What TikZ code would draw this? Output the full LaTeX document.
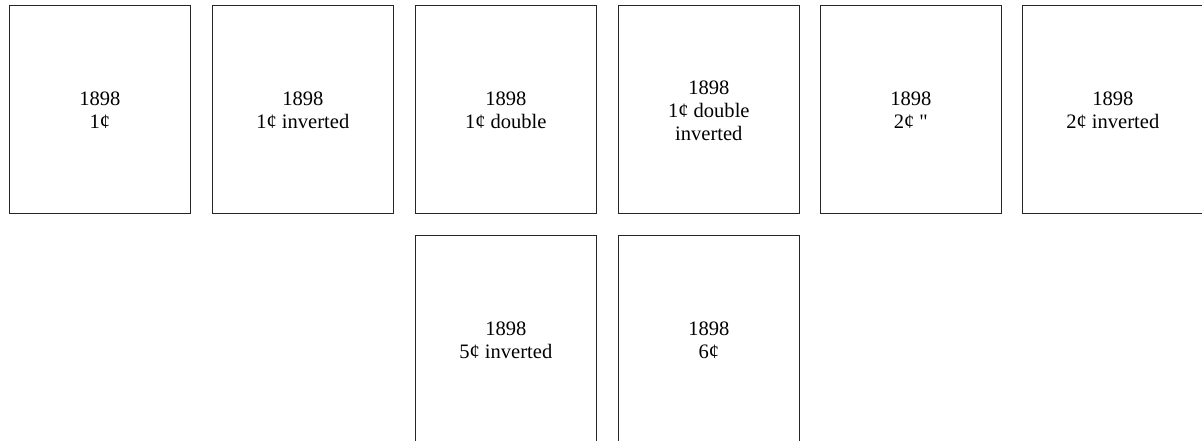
\documentclass[tikz,border=0pt]{standalone}
\usepackage{fontspec}
\setmainfont{Liberation Serif}
\newfontfamily\plainquote{Liberation Serif}
\begin{document}
\begin{tikzpicture}[x=0.75pt,y=-0.75pt,
  stampbox/.style={draw=black!85,line width=0.8pt,minimum width=181.5*0.75pt,minimum height=208*0.75pt,inner sep=0pt,anchor=north west},
  stamptext/.style={align=center,font=\fontsize{15.4pt}{17.3pt}\selectfont,inner sep=0pt}]
\useasboundingbox (0,0) rectangle (1202,440);
\node[stampbox] (b1) at (8.5,4.5) {};
\node[stampbox] (b2) at (211.5,4.5) {};
\node[stampbox] (b3) at (414.5,4.5) {};
\node[stampbox] (b4) at (617.5,4.5) {};
\node[stampbox] (b5) at (819.5,4.5) {};
\node[stampbox] (b6) at (1021.5,4.5) {};
\node[stampbox] (b7) at (414.5,234.5) {};
\node[stampbox] (b8) at (617.5,234.5) {};
\node[stamptext] (t1) at ([yshift=-1pt]b1.center) {1898\\1¢};
\node[stamptext] (t2) at ([yshift=-1pt]b2.center) {1898\\1¢ inverted};
\node[stamptext] (t3) at ([yshift=-1pt]b3.center) {1898\\1¢ double};
\node[stamptext] (t4) at ([yshift=-1pt]b4.center) {1898\\1¢ double\\inverted};
\node[stamptext] (t5) at ([yshift=-1pt]b5.center) {1898\\2¢ {\plainquote"}};
\node[stamptext] (t6) at ([yshift=-1pt]b6.center) {1898\\2¢ inverted};
\node[stamptext] (t7) at ([yshift=-1pt]b7.center) {1898\\5¢ inverted};
\node[stamptext] (t8) at ([yshift=-1pt]b8.center) {1898\\6¢};
\end{tikzpicture}
\end{document}
